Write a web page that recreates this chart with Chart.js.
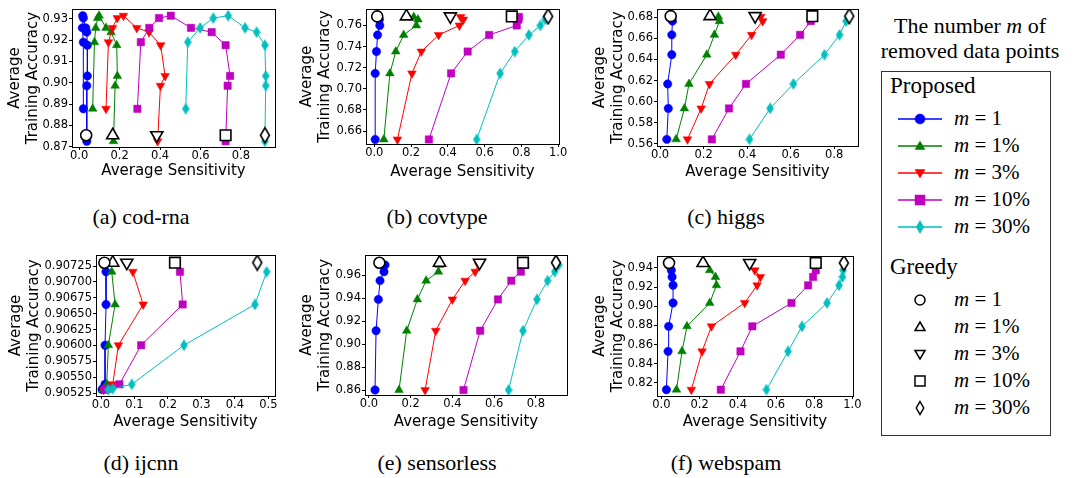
<!DOCTYPE html>
<html>
<head>
<meta charset="utf-8">
<script src="https://cdn.jsdelivr.net/npm/chart.js@4.4.1/dist/chart.umd.min.js"></script>
<style>
  body { margin: 0; background: #fff; width: 1075px; height: 478px; position: relative; overflow: hidden; font-family: "Liberation Serif", serif; }
  canvas { position: absolute; }
  .cap { position: absolute; font-size: 22px; transform: translate(-50%, -50%); white-space: nowrap; color: #000; }
  .m { font-style: italic; }
  #legTitle { position: absolute; left: 970px; top: 38px; transform: translate(-50%, -50%); font-size: 22px; line-height: 25px; text-align: center; white-space: nowrap; }
  #legBox { position: absolute; left: 881px; top: 71px; width: 170px; height: 365px; border: 1px solid #333; box-sizing: border-box; }
  .legHead { position: absolute; left: 8px; font-size: 23px; transform: translateY(-50%); }
  .legRow { position: absolute; left: 0; height: 20px; transform: translateY(-50%); }
  .legRow svg { position: absolute; left: 14px; top: 0; }
  .legRow .lab { position: absolute; left: 72px; top: -3px; font-size: 21px; white-space: nowrap; }
</style>
</head>
<body>
<div class="cap" style="left:141px;top:217px">(a) cod-rna</div>
<div class="cap" style="left:437px;top:217px">(b) covtype</div>
<div class="cap" style="left:726px;top:217px">(c) higgs</div>
<div class="cap" style="left:141px;top:463px">(d) ijcnn</div>
<div class="cap" style="left:437px;top:463px">(e) sensorless</div>
<div class="cap" style="left:726px;top:463px">(f) webspam</div>
<div id="legTitle">The number <span class="m">m</span> of<br>removed data points</div>
<div id="legBox"></div>
<script>
// Series labels and colours (matplotlib b, g, r, m, c)
const seriesLabels = ['m = 1', 'm = 1%', 'm = 3%', 'm = 10%', 'm = 30%'];
const seriesColors = ['#0000ff', '#008000', '#ff0000', '#bf00bf', '#00bfbf'];

// (a) cod-rna
const codAcc = [0.8878, 0.9190, 0.9257, 0.9303, 0.9314, 0.9257, 0.9237, 0.9176, 0.9032, 0.8986, 0.8726];
const codM1 = [0.021, 0.021, 0.016, 0.021, 0.018, 0.033, 0.038, 0.041, 0.041, 0.038, 0.038];
const codM1p = [0.067, 0.076, 0.082, 0.092, 0.099, 0.133, 0.158, 0.186, 0.189, 0.178, 0.170];
const codM3p = [0.133, 0.145, 0.165, 0.189, 0.219, 0.285, 0.346, 0.403, 0.425, 0.402, 0.388];
const codM10p = [0.288, 0.305, 0.347, 0.395, 0.453, 0.553, 0.655, 0.724, 0.746, 0.734, 0.724];
const codM30p = [0.527, 0.537, 0.598, 0.663, 0.737, 0.820, 0.877, 0.918, 0.922, 0.922, 0.918];
const codGreedySens = [0.035, 0.166, 0.384, 0.724, 0.918];
const codGreedyAcc = 0.8754;
const codXTicks = [0.0, 0.2, 0.4, 0.6, 0.8];
const codYTicks = [0.87, 0.88, 0.89, 0.90, 0.91, 0.92, 0.93];

// (b) covtype
const covAcc = [0.6520, 0.7146, 0.7353, 0.7510, 0.7600, 0.7656, 0.7680];
const covM1 = [0.005, 0.005, 0.012, 0.018, 0.030, 0.028, 0.022];
const covM1p = [0.052, 0.085, 0.117, 0.160, 0.229, 0.238, 0.215];
const covM3p = [0.126, 0.205, 0.256, 0.350, 0.463, 0.485, 0.470];
const covM10p = [0.297, 0.418, 0.508, 0.625, 0.775, 0.784, 0.787];
const covM30p = [0.557, 0.685, 0.764, 0.841, 0.904, 0.930, 0.935];
const covGreedySens = [0.016, 0.175, 0.414, 0.748, 0.946];
const covGreedyAcc = 0.7686;
const covXTicks = [0.0, 0.2, 0.4, 0.6, 0.8, 1.0];
const covYTicks = [0.66, 0.68, 0.70, 0.72, 0.74, 0.76];

// (c) higgs
const higAcc = [0.5643, 0.5936, 0.6168, 0.6445, 0.6633, 0.6763, 0.6805];
const higM1 = [0.031, 0.038, 0.035, 0.054, 0.054, 0.057, 0.055];
const higM1p = [0.074, 0.112, 0.133, 0.215, 0.250, 0.273, 0.268];
const higM3p = [0.126, 0.189, 0.227, 0.348, 0.421, 0.472, 0.463];
const higM10p = [0.238, 0.317, 0.395, 0.555, 0.644, 0.693, 0.697];
const higM30p = [0.411, 0.506, 0.613, 0.756, 0.825, 0.855, 0.866];
const higGreedySens = [0.049, 0.230, 0.437, 0.700, 0.870];
const higGreedyAcc = 0.6810;
const higXTicks = [0.0, 0.2, 0.4, 0.6, 0.8];
const higYTicks = [0.56, 0.58, 0.60, 0.62, 0.64, 0.66, 0.68];

// (d) ijcnn
const ijcAcc = [0.907160, 0.906645, 0.906003, 0.905387, 0.905318, 0.905303];
const ijcM1 = [0.015, 0.015, 0.012, 0.012, 0.005, 0.003];
const ijcM1p = [0.032, 0.042, 0.022, 0.017, 0.010, 0.005];
const ijcM3p = [0.095, 0.126, 0.052, 0.035, 0.015, 0.008];
const ijcM10p = [0.236, 0.244, 0.120, 0.055, 0.020, 0.012];
const ijcM30p = [0.495, 0.460, 0.248, 0.092, 0.035, 0.022];
const ijcGreedySens = [0.010, 0.035, 0.077, 0.221, 0.467];
const ijcGreedyAcc = 0.907303;
const ijcXTicks = [0.0, 0.1, 0.2, 0.3, 0.4, 0.5];
const ijcYTicks = [0.90525, 0.90550, 0.90575, 0.90600, 0.90625, 0.90650, 0.90675, 0.90700, 0.90725];

// (e) sensorless
const senAcc = [0.8600, 0.9116, 0.9388, 0.9551, 0.9629, 0.9687];
const senM1 = [0.029, 0.034, 0.045, 0.053, 0.072, 0.077];
const senM1p = [0.144, 0.181, 0.232, 0.274, 0.333, 0.338];
const senM3p = [0.269, 0.320, 0.400, 0.461, 0.509, 0.525];
const senM10p = [0.453, 0.533, 0.618, 0.682, 0.728, 0.749];
const senM30p = [0.669, 0.738, 0.805, 0.856, 0.890, 0.909];
const senGreedySens = [0.050, 0.338, 0.530, 0.738, 0.896];
const senGreedyAcc = 0.9707;
const senXTicks = [0.0, 0.2, 0.4, 0.6, 0.8];
const senYTicks = [0.86, 0.88, 0.90, 0.92, 0.94, 0.96];

// (f) webspam
const webAcc = [0.8130, 0.8530, 0.8791, 0.9035, 0.9219, 0.9306, 0.9376];
const webM1 = [0.026, 0.035, 0.038, 0.061, 0.061, 0.056, 0.052];
const webM1p = [0.079, 0.108, 0.134, 0.253, 0.288, 0.283, 0.253];
const webM3p = [0.157, 0.213, 0.262, 0.436, 0.501, 0.518, 0.489];
const webM10p = [0.311, 0.414, 0.476, 0.681, 0.768, 0.794, 0.808];
const webM30p = [0.550, 0.663, 0.736, 0.867, 0.930, 0.948, 0.951];
const webGreedySens = [0.040, 0.218, 0.462, 0.808, 0.955];
const webGreedyAcc = 0.9452;
const webXTicks = [0.0, 0.2, 0.4, 0.6, 0.8, 1.0];
const webYTicks = [0.82, 0.84, 0.86, 0.88, 0.90, 0.92, 0.94];

// small canvases for the thin diamond marker ('d' in matplotlib)
function thinDiamond(w, h, fill, stroke, lw) {
  const c = document.createElement('canvas');
  c.width = w + lw * 2;
  c.height = h + lw * 2;
  const g = c.getContext('2d');
  const cx = c.width / 2, cy = c.height / 2;
  g.beginPath();
  g.moveTo(cx, cy - h / 2);
  g.lineTo(cx + w / 2, cy);
  g.lineTo(cx, cy + h / 2);
  g.lineTo(cx - w / 2, cy);
  g.closePath();
  g.fillStyle = fill;
  g.fill();
  g.lineWidth = lw;
  g.strokeStyle = stroke;
  g.stroke();
  return c;
}
const cyanDiamond = thinDiamond(7, 11, '#00bfbf', '#00bfbf', 0.5);
const openDiamond = thinDiamond(9, 15, '#ffffff', '#000000', 1.6);

const markerStyles = ['circle', 'triangle', 'triangle', 'rect', cyanDiamond];
const markerRot = [0, 0, 180, 0, 0];
const markerRadius = [4.2, 5, 5, 5.2, 5];
const greedyStyles = ['circle', 'triangle', 'triangle', 'rect', openDiamond];
const greedyRadius = [5.5, 7, 7, 7.5, 6];

// whole box around the plot area, like matplotlib spines
const framePlugin = {
  id: 'frame',
  afterDraw(chart) {
    const {ctx, chartArea: a} = chart;
    ctx.save();
    ctx.strokeStyle = '#000';
    ctx.lineWidth = 1;
    ctx.strokeRect(Math.round(a.left) + 0.5, Math.round(a.top) + 0.5, Math.round(a.right - a.left), Math.round(a.bottom - a.top));
    ctx.restore();
  }
};

function makePanel(p) {
  const cv = document.createElement('canvas');
  cv.width = p.W;
  cv.height = p.H;
  cv.style.left = p.L + 'px';
  cv.style.top = p.T + 'px';
  document.body.appendChild(cv);

  const datasets = [];
  // greedy markers on top
  p.greedy.forEach((s, i) => {
    datasets.push({
      label: 'Greedy ' + seriesLabels[i],
      data: [{x: s, y: p.greedyAcc}],
      showLine: false,
      pointStyle: greedyStyles[i],
      rotation: markerRot[i],
      pointRadius: greedyRadius[i],
      backgroundColor: '#fff',
      borderColor: '#000',
      pointBorderWidth: 1.6,
      order: 0
    });
  });
  p.series.forEach((xs, i) => {
    datasets.push({
      label: 'Proposed ' + seriesLabels[i],
      data: xs.map((x, k) => ({x: x, y: p.acc[k]})),
      showLine: true,
      borderColor: seriesColors[i],
      backgroundColor: seriesColors[i],
      borderWidth: 1,
      pointStyle: markerStyles[i],
      rotation: markerRot[i],
      pointRadius: markerRadius[i],
      pointBorderWidth: 0.5,
      order: 5 - i
    });
  });

  const tickFont = {family: 'DejaVu Sans', size: 11.5, lineHeight: 1};
  const titleFont = {family: 'DejaVu Sans', size: 15, lineHeight: 1.2};

  new Chart(cv, {
    type: 'scatter',
    data: {datasets},
    options: {
      responsive: false,
      animation: false,
      events: [],
      layout: {padding: {left: 0, bottom: 0, top: p.y0 - p.T, right: p.L + p.W - p.x1}},
      plugins: {legend: {display: false}, tooltip: {enabled: false}},
      scales: {
        x: {
          type: 'linear',
          min: p.xMin,
          max: p.xMax,
          grid: {display: true, drawOnChartArea: false, drawTicks: true, tickLength: 3, color: '#000'},
          border: {display: false},
          ticks: {font: tickFont, color: '#000', padding: 0, maxRotation: 0,
                  callback: v => v.toFixed(1)},
          afterBuildTicks: ax => { ax.ticks = p.xTicks.map(v => ({value: v})); },
          afterFit: ax => { ax.height = p.T + p.H - p.y1; ax.paddingLeft = 0; ax.paddingRight = 0; },
          title: {display: true, text: 'Average Sensitivity', font: titleFont, color: '#000', padding: {top: 0, bottom: 2}}
        },
        y: {
          type: 'linear',
          min: p.yMin,
          max: p.yMax,
          grid: {display: true, drawOnChartArea: false, drawTicks: true, tickLength: 3, color: '#000'},
          border: {display: false},
          ticks: {font: tickFont, color: '#000', padding: 1,
                  callback: v => v.toFixed(p.yDec)},
          afterBuildTicks: ax => { ax.ticks = p.yTicks.map(v => ({value: v})); },
          afterFit: ax => { ax.width = p.x0 - p.L; ax.paddingTop = 0; ax.paddingBottom = 0; },
          title: {display: true, text: ['Average', 'Training Accuracy'], font: titleFont, color: '#000', padding: {top: 6, bottom: 0}}
        }
      }
    },
    plugins: [framePlugin]
  });
}

const panels = [
  {L: 0, T: 0, W: 287, H: 182, x0: 72, y0: 6, x1: 275, y1: 147,
   xMin: -0.035, xMax: 0.968, yMin: 0.8699, yMax: 0.9345, yDec: 2,
   acc: codAcc, series: [codM1, codM1p, codM3p, codM10p, codM30p], greedy: codGreedySens, greedyAcc: codGreedyAcc,
   xTicks: codXTicks, yTicks: codYTicks},
  {L: 292, T: 0, W: 279, H: 183, x0: 366, y0: 6, x1: 559, y1: 144,
   xMin: -0.045, xMax: 1.005, yMin: 0.6477, yMax: 0.7755, yDec: 2,
   acc: covAcc, series: [covM1, covM1p, covM3p, covM10p, covM30p], greedy: covGreedySens, greedyAcc: covGreedyAcc,
   xTicks: covXTicks, yTicks: covYTicks},
  {L: 585, T: 0, W: 285, H: 183, x0: 657, y0: 6, x1: 858, y1: 146,
   xMin: -0.014, xMax: 0.91, yMin: 0.558, yMax: 0.6877, yDec: 2,
   acc: higAcc, series: [higM1, higM1p, higM3p, higM10p, higM30p], greedy: higGreedySens, greedyAcc: higGreedyAcc,
   xTicks: higXTicks, yTicks: higYTicks},
  {L: 1, T: 240, W: 286, H: 193, x0: 96, y0: 255, x1: 275, y1: 396,
   xMin: -0.015, xMax: 0.52, yMin: 0.905203, yMax: 0.907424, yDec: 5,
   acc: ijcAcc, series: [ijcM1, ijcM1p, ijcM3p, ijcM10p, ijcM30p], greedy: ijcGreedySens, greedyAcc: ijcGreedyAcc,
   xTicks: ijcXTicks, yTicks: ijcYTicks},
  {L: 292, T: 240, W: 287, H: 193, x0: 365, y0: 255, x1: 567, y1: 395,
   xMin: -0.019, xMax: 0.949, yMin: 0.8557, yMax: 0.9774, yDec: 2,
   acc: senAcc, series: [senM1, senM1p, senM3p, senM10p, senM30p], greedy: senGreedySens, greedyAcc: senGreedyAcc,
   xTicks: senXTicks, yTicks: senYTicks},
  {L: 585, T: 240, W: 280, H: 193, x0: 657, y0: 256, x1: 853, y1: 396,
   xMin: -0.023, xMax: 1.003, yMin: 0.8064, yMax: 0.9525, yDec: 2,
   acc: webAcc, series: [webM1, webM1p, webM3p, webM10p, webM30p], greedy: webGreedySens, greedyAcc: webGreedyAcc,
   xTicks: webXTicks, yTicks: webYTicks}
];
panels.forEach(makePanel);

// Legend (HTML text, small svg glyphs for the markers)
const box = document.getElementById('legBox');
function marker(i, fill, stroke, sw, s) {
  const c = 24;
  if (i === 0) return `<circle cx="${c}" cy="10" r="${s}" fill="${fill}" stroke="${stroke}" stroke-width="${sw}"/>`;
  if (i === 1) return `<polygon points="${c},${10 - s} ${c + s},${10 + s * 0.7} ${c - s},${10 + s * 0.7}" fill="${fill}" stroke="${stroke}" stroke-width="${sw}"/>`;
  if (i === 2) return `<polygon points="${c},${10 + s} ${c + s},${10 - s * 0.7} ${c - s},${10 - s * 0.7}" fill="${fill}" stroke="${stroke}" stroke-width="${sw}"/>`;
  if (i === 3) return `<rect x="${c - s}" y="${10 - s}" width="${2 * s}" height="${2 * s}" fill="${fill}" stroke="${stroke}" stroke-width="${sw}"/>`;
  return `<polygon points="${c},${10 - s * 1.3} ${c + s * 0.75},10 ${c},${10 + s * 1.3} ${c - s * 0.75},10" fill="${fill}" stroke="${stroke}" stroke-width="${sw}"/>`;
}
function labelHtml(t) {
  return t.replace('m', '<span class="m">m</span>');
}
let html = '<div class="legHead" style="top:14px">Proposed</div>';
seriesLabels.forEach((t, i) => {
  const y = 47 + i * 27;
  html += `<div class="legRow" style="top:${y}px"><svg width="50" height="20">` +
    `<line x1="2" y1="10" x2="46" y2="10" stroke="${seriesColors[i]}" stroke-width="1.3"/>` +
    marker(i, seriesColors[i], seriesColors[i], 0.5, 5) + `</svg><span class="lab">${labelHtml(t)}</span></div>`;
});
html += '<div class="legHead" style="top:195px">Greedy</div>';
seriesLabels.forEach((t, i) => {
  const y = 228 + i * 27;
  html += `<div class="legRow" style="top:${y}px"><svg width="50" height="20">` +
    marker(i, '#fff', '#000', 1.5, 5) + `</svg><span class="lab">${labelHtml(t)}</span></div>`;
});
box.innerHTML = html;
</script>
</body>
</html>
